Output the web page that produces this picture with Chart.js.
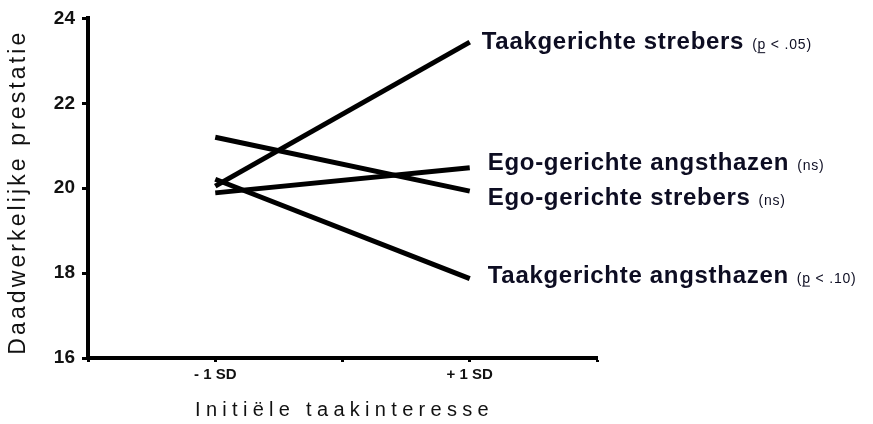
<!DOCTYPE html>
<html>
<head>
<meta charset="utf-8">
<script src="https://cdn.jsdelivr.net/npm/chart.js@4.4.1/dist/chart.umd.min.js"></script>
<style>
  html, body { margin: 0; padding: 0; background: #fff; }
  canvas { display: block; }
</style>
</head>
<body>
<canvas id="chart" width="873" height="424"></canvas>
<script>
// x positions are in SD units from the mean
const conditions = ['- 1 SD', '+ 1 SD'];
const conditionX = [-1, 1];

const seriesNames = ['Taakgerichte strebers', 'Ego-gerichte angsthazen', 'Ego-gerichte strebers', 'Taakgerichte angsthazen'];
const seriesNotes = [['(', 'p', ' < .05)'], ['(ns)'], ['(ns)'], ['(', 'p', ' < .10)']];

const taakStrebers = [20.05, 23.44];
const egoAngsthazen = [19.89, 20.48];
const egoStrebers = [21.2, 19.93];
const taakAngsthazen = [20.21, 17.87];

const yTitle = 'Daadwerkelijke prestatie';
const xTitle = 'Initiële taakinteresse';

const FONT = "'Liberation Sans', Arial, Helvetica, sans-serif";
const TEXT = '#0d0d22';

function pts(vals){
    return vals.map((v, i) => ({x: conditionX[i], y: v}));
}
function mkSet(name, vals, dx, dy){
    return {
        label: name,
        data: pts(vals),
        borderColor: '#000',
        borderWidth: 5,
        borderCapStyle: 'butt',
        pointRadius: 0,
        fill: false,
        tension: 0,
        labelDx: dx,
        labelDy: dy
    };
}

const labelsPlugin = {
    id: 'endLabels',
    afterDraw(chart){
        const ctx = chart.ctx;
        const xs = chart.scales.x, ys = chart.scales.y;
        ctx.save();
        ctx.fillStyle = TEXT;
        ctx.textBaseline = 'alphabetic';
        ctx.textAlign = 'left';
        chart.data.datasets.forEach((ds, i) => {
            const last = ds.data[ds.data.length - 1];
            let x = xs.getPixelForValue(last.x) + ds.labelDx;
            const y = ys.getPixelForValue(last.y) + ds.labelDy;
            ctx.font = `bold 24px ${FONT}`;
            ctx.letterSpacing = '0.7px';
            ctx.fillText(ds.label, x, y);
            x += ctx.measureText(ds.label).width + 8;
            ctx.font = `14px ${FONT}`;
            ctx.letterSpacing = '0.8px';
            seriesNotes[i].forEach(part => {
                ctx.fillText(part, x, y);
                const w = ctx.measureText(part).width;
                if (part === 'p') {
                    ctx.fillRect(x, y + 3, w - 1, 1);
                }
                x += w;
            });
        });
        // axis titles
        ctx.fillStyle = '#111';
        ctx.font = `20px ${FONT}`;
        ctx.letterSpacing = '5.3px';
        ctx.textAlign = 'center';
        ctx.fillText(xTitle, (xs.left + xs.right) / 2 + 2, 416);
        ctx.translate(25, (ys.top + ys.bottom) / 2 + 4);
        ctx.rotate(-Math.PI / 2);
        ctx.font = `23px ${FONT}`;
        ctx.letterSpacing = '3.1px';
        ctx.fillText(yTitle, 0, 0);
        ctx.restore();
    }
};

function init(){
    const ctx = document.getElementById('chart').getContext('2d');
    new Chart(ctx, {
        type: 'line',
        data: {
            datasets: [
                mkSet(seriesNames[0], taakStrebers, 12, 7),
                mkSet(seriesNames[1], egoAngsthazen, 18, 2),
                mkSet(seriesNames[2], egoStrebers, 18, 14),
                mkSet(seriesNames[3], taakAngsthazen, 18, 4)
            ]
        },
        options: {
            responsive: false,
            animation: false,
            devicePixelRatio: 1,
            layout: { padding: { top: 14, right: 276, bottom: 0, left: 0 } },
            plugins: {
                legend: { display: false },
                tooltip: { enabled: false }
            },
            scales: {
                x: {
                    type: 'linear',
                    min: -2,
                    max: 2,
                    afterFit: s => { s.height = 66; },
                    border: { display: true, color: '#000', width: 4 },
                    grid: { drawOnChartArea: false, drawTicks: true, tickLength: 4, tickWidth: 3, tickColor: '#000' },
                    ticks: {
                        stepSize: 1,
                        padding: 4,
                        color: '#111',
                        font: { family: FONT, size: 15, weight: 'bold' },
                        callback: v => {
                            const i = conditionX.indexOf(v);
                            return i >= 0 ? conditions[i] : '';
                        }
                    }
                },
                y: {
                    min: 16,
                    max: 24,
                    afterFit: s => { s.width = 88; },
                    border: { display: true, color: '#000', width: 4 },
                    grid: { drawOnChartArea: false, drawTicks: true, tickLength: 6, tickWidth: 3, tickColor: '#000' },
                    ticks: {
                        stepSize: 2,
                        padding: 7,
                        color: '#111',
                        font: { family: FONT, size: 19, weight: 'bold' }
                    }
                }
            }
        },
        plugins: [labelsPlugin]
    });
}
init();
</script>
</body>
</html>
